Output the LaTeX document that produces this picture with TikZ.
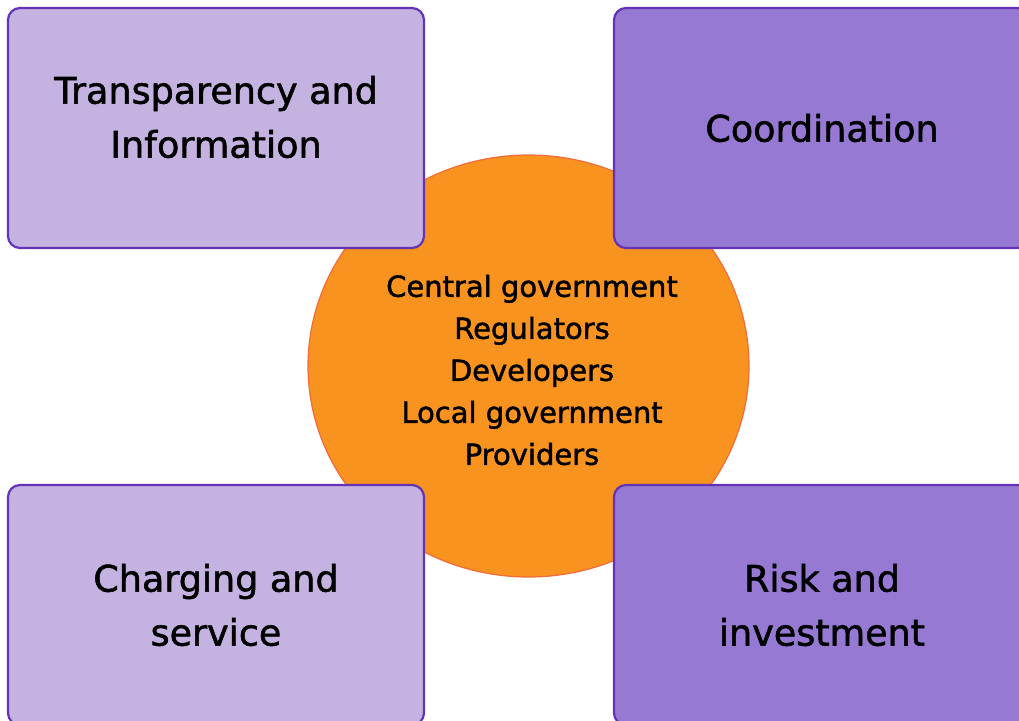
\documentclass[tikz,border=0pt]{standalone}
\usepackage{fontspec}
\setmainfont{DejaVu Sans}[FakeBold=1.5]
\usetikzlibrary{shapes.geometric}
\definecolor{lilac}{HTML}{C4B3E1}
\definecolor{violet}{HTML}{9579D3}
\definecolor{edgepurple}{HTML}{6433B5}
\definecolor{hubfill}{HTML}{F7931E}
\definecolor{hubedge}{HTML}{F26B3A}
\tikzset{
  panel/.style={draw=edgepurple, line width=2.2pt, rounded corners=12pt,
    minimum width=416pt, minimum height=240pt, inner sep=0pt},
  lightpanel/.style={panel, fill=lilac},
  darkpanel/.style={panel, fill=violet},
  hub/.style={ellipse, draw=hubedge, line width=1.2pt, fill=hubfill,
    minimum width=441pt, minimum height=422pt, inner sep=0pt},
  bigtext/.style={align=center, font=\fontsize{36.5}{54}\selectfont, inner sep=0pt},
  hubtext/.style={align=center, font=\fontsize{29}{42}\selectfont, inner sep=0pt}
}
\begin{document}
\begin{tikzpicture}[x=1pt, y=-1pt]
  \useasboundingbox (0,0) rectangle (1019,720);
  \clip (0,0) rectangle (1019,720);
  \fill[white] (0,0) rectangle (1019,720);
  % central stakeholder disc
  \node[hub] (hub) at (528.5,366) {};
  \node[hubtext] (actors) at (532,370)
    {Central government\\Regulators\\Developers\\Local government\\Providers};
  % four themes around the disc
  \node[lightpanel] (tl) at (216,128) {};
  \node[darkpanel]  (tr) at (822,128) {};
  \node[lightpanel] (bl) at (216,605) {};
  \node[darkpanel]  (br) at (822,605) {};
  \node[bigtext] (tltext) at (216,117) {Transparency and\\Information};
  \node[bigtext] (trtext) at (822,128) {Coordination};
  \node[bigtext] (bltext) at (216,605) {Charging and\\service};
  \node[bigtext] (brtext) at (822,605) {Risk and\\investment};
\end{tikzpicture}
\end{document}
